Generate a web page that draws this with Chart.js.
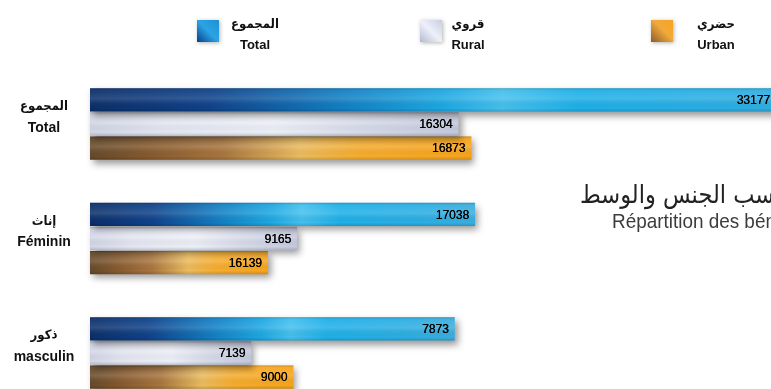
<!DOCTYPE html>
<html><head><meta charset="utf-8">
<script src="https://cdn.jsdelivr.net/npm/chart.js@4/dist/chart.umd.min.js"></script>
<style>html,body{margin:0;padding:0;background:#fff;overflow:hidden}#wrap{width:771px;height:389px;position:relative}</style>
</head><body><div id="wrap"><canvas id="c" width="771" height="389"></canvas></div>
<script>
// ---- data ----
const categoriesAr = ['المجموع', 'إناث', 'ذكور'];
const categoriesFr = ['Total', 'Féminin', 'masculin'];
const seriesAr = ['المجموع', 'قروي', 'حضري'];
const seriesEn = ['Total', 'Rural', 'Urban'];
// bar lengths (consistent: total = rural + urban)
const totalValues = [33177, 17038, 16139];
const ruralValues = [16304, 9165, 7139];
const urbanValues = [16873, 7873, 9000];
// numbers printed on the bars in the picture (two of them appear swapped there)
const totalPrinted = ['33177', '17038', '7873'];
const ruralPrinted = ['16304', '9165', '7139'];
const urbanPrinted = ['16873', '16139', '9000'];
const titleAr = 'توزيع المستفيدين حسب الجنس والوسط';
const titleFr = 'Répartition des bénéficiaires selon le sexe et le milieu';

// ---- styles ----
const STOPS = [
  [[0,'#0b2f6a'],[0.16,'#0f428a'],[0.34,'#1280c4'],[0.47,'#1ca8e2'],[0.55,'#45c0ee'],[0.65,'#1eb0e8'],[0.85,'#2aaee4'],[1,'#3aaedf']],
  [[0,'#d2d6e6'],[0.2,'#e4e7f2'],[0.5,'#eef0f8'],[0.75,'#d6dae9'],[1,'#c4c9de']],
  [[0,'#664a2a'],[0.15,'#86592e'],[0.35,'#a9763e'],[0.55,'#ecbc5e'],[0.7,'#f6ad2e'],[1,'#f8a41a']]
];
const SOLID = ['#1ca0dc', '#d8dbea', '#e49a2a'];
function grad(ctx, x0, x1, stops) {
  const g = ctx.createLinearGradient(x0, 0, x1, 0);
  stops.forEach(s => g.addColorStop(s[0], s[1]));
  return g;
}
function barBg(i) {
  return (c) => {
    const ch = c.chart;
    if (!ch.chartArea || !ch.scales.x || c.raw == null) return SOLID[i];
    const xs = ch.scales.x;
    const x0 = xs.getPixelForValue(0), x1 = xs.getPixelForValue(c.raw);
    return grad(ch.ctx, x0, x1, STOPS[i]);
  };
}
const printed = [totalPrinted, ruralPrinted, urbanPrinted];

const shadowPlugin = {
  id: 'shadow',
  beforeDatasetsDraw(chart) {
    const ctx = chart.ctx; ctx.save();
    ctx.shadowColor = 'rgba(0,0,0,0.4)'; ctx.shadowBlur = 7; ctx.shadowOffsetX = 3; ctx.shadowOffsetY = 4;
  },
  afterDatasetsDraw(chart) {
    const ctx = chart.ctx; ctx.restore();
    for (let d = chart.data.datasets.length - 1; d >= 0; d--) {
      const meta = chart.getDatasetMeta(d);
      meta.data.forEach((el) => {
        const top = el.y - el.height / 2, h = el.height;
        const x0 = Math.min(el.base, el.x), x1 = Math.max(el.base, el.x);
        const g = ctx.createLinearGradient(0, top, 0, top + h);
        g.addColorStop(0, 'rgba(0,0,0,0.18)');
        g.addColorStop(0.12, 'rgba(255,255,255,0.06)');
        g.addColorStop(0.45, 'rgba(255,255,255,0.14)');
        g.addColorStop(0.85, 'rgba(0,0,0,0.0)');
        g.addColorStop(1, 'rgba(0,0,0,0.16)');
        ctx.fillStyle = g; ctx.fillRect(x0, top, x1 - x0, h);
      });
    }
    ctx.save();
    ctx.font = '12px "Liberation Sans", Arial, sans-serif';
    ctx.fillStyle = '#000'; ctx.textAlign = 'right'; ctx.textBaseline = 'middle';
    const right = chart.chartArea.right;
    chart.data.datasets.forEach((ds, d) => {
      chart.getDatasetMeta(d).data.forEach((el, i) => {
        const clipped = el.x > right;
        const xr = clipped ? right - 1 : el.x - 6;
        ctx.fillText(printed[d][i], xr, el.y + 1);
        ctx.fillText(printed[d][i], xr + 0.3, el.y + 1);
      });
    });
    ctx.restore();
  }
};

const decorPlugin = {
  id: 'decor',
  beforeDraw(chart) {
    const ctx = chart.ctx;
    ctx.save();
    ctx.fillStyle = '#fff'; ctx.fillRect(0, 0, chart.width, chart.height);
    ctx.fillStyle = '#222'; ctx.textAlign = 'left'; ctx.textBaseline = 'alphabetic';
    ctx.font = '25px "DejaVu Sans Condensed", "DejaVu Sans", sans-serif';
    ctx.fillText(titleAr, 580, 203);
    ctx.fillStyle = '#3c3c3c';
    ctx.font = '21px "Liberation Sans", Arial, sans-serif';
    ctx.translate(612, 228);
    ctx.scale(0.9, 1);
    ctx.fillText(titleFr, 0, 0);
    ctx.restore();
  },
  afterDraw(chart) {
    const ctx = chart.ctx;
    ctx.save();
    const boxX = [197, 420, 651], txtX = [255, 468, 716];
    for (let i = 0; i < 3; i++) {
      const bx = boxX[i], by = 20, s = 22;
      ctx.save();
      ctx.shadowColor = 'rgba(0,0,0,0.3)'; ctx.shadowBlur = 4; ctx.shadowOffsetX = 1; ctx.shadowOffsetY = 1;
      const g = ctx.createLinearGradient(bx, by + s, bx + s, by);
      if (i === 0) { g.addColorStop(0, '#0d3f86'); g.addColorStop(0.5, '#2aa4e4'); g.addColorStop(1, '#1e90d4'); }
      else if (i === 1) { g.addColorStop(0, '#b4b9d2'); g.addColorStop(0.5, '#eef0f8'); g.addColorStop(1, '#c8cde2'); }
      else { g.addColorStop(0, '#8a5c2c'); g.addColorStop(0.55, '#f2a93a'); g.addColorStop(1, '#f7a51e'); }
      ctx.fillStyle = g; ctx.fillRect(bx, by, s, s);
      ctx.restore();
      ctx.fillStyle = '#111'; ctx.textAlign = 'center'; ctx.textBaseline = 'middle';
      ctx.font = 'bold 13px "DejaVu Sans Condensed", "DejaVu Sans", sans-serif';
      ctx.fillText(seriesAr[i], txtX[i], 25);
      ctx.font = 'bold 13px "Liberation Sans", Arial, sans-serif';
      ctx.fillText(seriesEn[i], txtX[i], 45);
    }
    const ys = chart.scales.y;
    ctx.fillStyle = '#111'; ctx.textAlign = 'center'; ctx.textBaseline = 'middle';
    categoriesFr.forEach((lab, i) => {
      const y = ys.getPixelForValue(i);
      ctx.font = 'bold 13px "DejaVu Sans Condensed", "DejaVu Sans", sans-serif';
      ctx.fillText(categoriesAr[i], 44, y - 17);
      ctx.font = 'bold 14px "Liberation Sans", Arial, sans-serif';
      ctx.fillText(lab, 44, y + 4);
    });
    ctx.restore();
  }
};

new Chart(document.getElementById('c'), {
  type: 'bar',
  data: {
    labels: categoriesFr,
    datasets: [
      { label: seriesEn[0], data: totalValues, backgroundColor: barBg(0) },
      { label: seriesEn[1], data: ruralValues, backgroundColor: barBg(1) },
      { label: seriesEn[2], data: urbanValues, backgroundColor: barBg(2) }
    ]
  },
  options: {
    indexAxis: 'y',
    responsive: false,
    animation: false,
    devicePixelRatio: 1,
    clip: false,
    categoryPercentage: 0.63,
    barPercentage: 0.97,
    layout: { padding: { left: 90, right: 0, top: 124, bottom: 36 } },
    scales: {
      x: { display: false, min: 0, max: 30130 },
      y: { display: false, offset: false }
    },
    plugins: { legend: { display: false }, title: { display: false }, tooltip: { enabled: false } }
  },
  plugins: [decorPlugin, shadowPlugin]
});
</script>
</body></html>
